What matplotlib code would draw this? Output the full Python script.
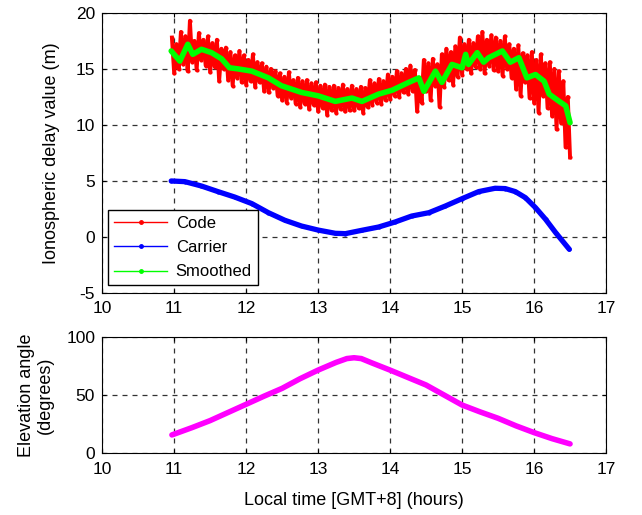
import numpy as np
import matplotlib
matplotlib.use("Agg")
import matplotlib.pyplot as plt
from matplotlib.lines import Line2D

plt.rcParams['font.family'] = ['Liberation Sans', 'DejaVu Sans']
plt.rcParams['axes.unicode_minus'] = False

# ---- data ----
code_vals = [
    17.8, 14.6, 17.2, 15.0, 18.3, 15.4, 17.9, 14.8,
    19.3, 15.6, 17.5, 14.9, 18.2, 15.8, 17.6, 15.3,
    17.9, 14.7, 17.3, 15.2, 17.6, 13.9, 16.8, 15.0,
    16.9, 14.0, 16.5, 13.5, 16.2, 14.2, 16.6, 13.8,
    16.2, 13.6, 15.8, 13.9, 16.3, 13.4, 15.6, 13.8,
    15.5, 13.0, 15.2, 12.9, 15.0, 13.3, 14.8, 12.6,
    14.6, 12.2, 14.3, 12.0, 14.7, 12.4, 14.0, 11.9,
    14.2, 11.6, 13.9, 11.9, 14.0, 11.4, 13.7, 11.8,
    13.8, 11.2, 13.5, 11.5, 13.6, 10.9, 13.4, 11.3,
    13.5, 11.1, 13.3, 11.4, 13.6, 11.2, 13.2, 11.3,
    13.5, 11.3, 13.2, 11.5, 13.4, 11.1, 13.3, 11.6,
    14.0, 11.8, 13.7, 12.0, 14.1, 11.9, 13.9, 12.2,
    14.5, 12.3, 14.3, 12.6, 14.8, 12.5, 14.6, 12.9,
    15.0, 12.8, 15.3, 13.0, 14.9, 11.2, 14.2, 12.0,
    15.8, 13.0, 15.5, 12.2, 15.9, 13.5, 15.4, 11.6,
    16.3, 13.4, 16.8, 14.0, 16.5, 13.6, 17.0, 14.3,
    17.8, 14.5, 17.2, 15.0, 17.6, 14.6, 17.3, 15.2,
    17.9, 15.0, 18.3, 14.6, 17.6, 15.3, 18.0, 14.9,
    17.8, 14.8, 17.5, 14.4, 17.9, 15.0, 17.2, 14.2,
    16.8, 13.2, 17.1, 12.6, 16.4, 13.8, 16.2, 12.4,
    16.5, 12.0, 15.8, 11.1, 16.3, 12.6, 15.5, 11.5,
    15.6, 10.8, 15.0, 9.6, 14.8, 10.2, 13.9, 8.0, 12.5, 7.1,
]
code_t_start, code_t_end = 10.97, 16.50

smooth_t = [10.96, 11.08, 11.19, 11.26, 11.38, 11.52, 11.66, 11.77, 11.89, 12.08,
            12.31, 12.49, 12.77, 13.00, 13.24, 13.47, 13.61, 13.84, 14.03, 14.26,
            14.40, 14.47, 14.63, 14.72, 14.86, 15.00, 15.05, 15.09, 15.21, 15.30,
            15.37, 15.56, 15.67, 15.79, 15.90, 16.02, 16.14, 16.21, 16.35, 16.44, 16.50]
smooth_v = [16.6, 15.7, 17.2, 16.3, 16.75, 16.45, 15.9, 15.1, 15.0, 14.8,
            14.2, 13.5, 12.9, 12.6, 12.1, 12.4, 12.1, 12.75, 13.1, 13.8,
            14.2, 13.0, 14.8, 13.8, 15.4, 15.1, 16.3, 15.4, 16.45, 15.6,
            16.0, 16.6, 15.6, 16.0, 14.2, 14.5, 13.9, 12.75, 12.1, 11.7, 10.2]

carrier_t = [10.96, 11.15, 11.38, 11.61, 11.84, 12.08, 12.31, 12.54, 12.77, 13.00,
             13.24, 13.38, 13.61, 13.84, 14.07, 14.30, 14.54, 14.77, 15.00, 15.23,
             15.46, 15.60, 15.74, 15.88, 16.02, 16.16, 16.30, 16.49]
carrier_v = [5.0, 4.94, 4.55, 4.05, 3.57, 2.98, 2.17, 1.49, 0.98, 0.62,
             0.33, 0.30, 0.60, 0.89, 1.34, 1.87, 2.17, 2.77, 3.42, 4.05,
             4.35, 4.32, 4.05, 3.51, 2.62, 1.58, 0.39, -1.10]

elev_t = [10.97, 11.25, 11.5, 11.75, 12.0, 12.25, 12.5, 12.75, 13.0, 13.25, 13.4,
          13.5, 13.6, 13.75, 14.0, 14.25, 14.5, 14.75, 15.0, 15.25, 15.5, 15.75,
          16.0, 16.25, 16.5]
elev_v = [15.7, 22.0, 28.0, 35.0, 42.0, 49.0, 55.7, 64.0, 71.4, 78.0, 81.3,
          82.0, 81.3, 77.5, 71.4, 65.0, 58.6, 50.0, 41.4, 35.5, 30.0, 23.5,
          17.7, 12.5, 8.0]

xticks = [10, 11, 12, 13, 14, 15, 16, 17]
top_yticks = [-5, 0, 5, 10, 15, 20]
bot_yticks = [0, 50, 100]

# ---- figure ----
fig = plt.figure(figsize=(6.42, 5.15), dpi=100)
ax1 = fig.add_axes([0.159, 0.431, 0.785, 0.544])
ax2 = fig.add_axes([0.159, 0.120, 0.785, 0.226])

code_t = np.linspace(code_t_start, code_t_end, len(code_vals))
ax1.plot(code_t, code_vals, '-', color='#ff0000', lw=2.8, marker='.', ms=4, label='Code', zorder=3)
ax1.plot(carrier_t, carrier_v, '-', color='#0000ff', lw=3.8, marker='.', ms=4,
         label='Carrier', zorder=4, solid_capstyle='round')
ax1.plot(smooth_t, smooth_v, '-', color='#00ff00', lw=4.0, label='Smoothed', zorder=5,
         solid_joinstyle='round', solid_capstyle='round')

ax2.plot(elev_t, elev_v, '-', color='#ff00ff', lw=4.0, zorder=3, solid_capstyle='round')

for ax, yt in ((ax1, top_yticks), (ax2, bot_yticks)):
    ax.set_xlim(10, 17)
    ax.set_xticks(xticks)
    ax.set_ylim(yt[0], yt[-1])
    ax.set_yticks(yt)
    ax.grid(True, color='#333333', linestyle=(0, (4, 4)), linewidth=0.9)
    ax.set_axisbelow(True)
    ax.tick_params(direction='in', top=True, right=True, length=3, labelsize=12.5)
    ax.tick_params(axis='x', pad=6)
    ax.tick_params(axis='y', pad=5)
    for s in ax.spines.values():
        s.set_linewidth(0.8)

ax1.set_ylabel('Ionospheric delay value (m)', fontsize=13, labelpad=11)
ax2.set_ylabel('Elevation angle\n(degrees)', fontsize=13, linespacing=1.1, labelpad=9)
ax2.set_xlabel('Local time [GMT+8] (hours)', fontsize=13, labelpad=11)

handles = [Line2D([], [], color='#ff0000', lw=1, marker='.', ms=5),
           Line2D([], [], color='#0000ff', lw=1, marker='.', ms=5),
           Line2D([], [], color='#00ff00', lw=1, marker='.', ms=5)]
leg = ax1.legend(handles, ['Code', 'Carrier', 'Smoothed'], loc='lower left',
                 bbox_to_anchor=(0.012, 0.028), fontsize=12, fancybox=False,
                 framealpha=1, edgecolor='black', borderpad=0.35, labelspacing=0.55,
                 handlelength=3.2, handletextpad=0.5, borderaxespad=0)
leg.get_frame().set_linewidth(1.0)

fig.savefig('out.png', dpi=100)
